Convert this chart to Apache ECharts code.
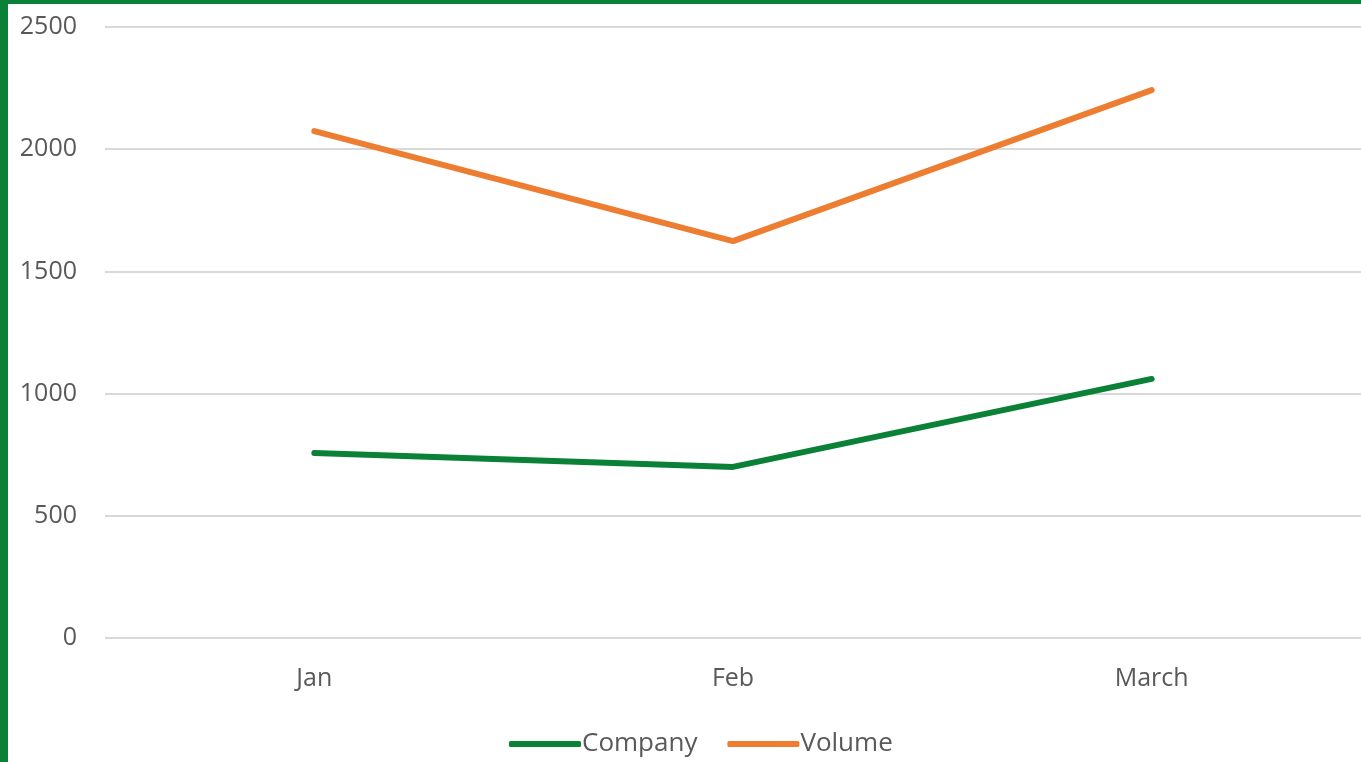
<!DOCTYPE html>
<html>
<head>
<meta charset="utf-8">
<script src="https://cdn.jsdelivr.net/npm/echarts@6/dist/echarts.min.js"></script>
<style>
  html, body { margin: 0; padding: 0; background: #fff; }
  #frame { width: 1353px; height: 758px; border-left: 8px solid #0a8137; border-top: 4px solid #0a8137; }
  #main { width: 1353px; height: 758px; }
</style>
</head>
<body>
<div id="frame"><div id="main"></div></div>
<script>
// data
var months = ['Jan', 'Feb', 'March'];
var company = [757, 700, 1060];
var volume = [2074, 1624, 2242];

var chart = echarts.init(document.getElementById('main'));
var txt = '#595959';

chart.setOption({
  backgroundColor: '#fff',
  animation: false,
  textStyle: { fontFamily: 'Open Sans' },
  grid: { left: 97, top: 23, width: 1260, bottom: 124 },
  legend: {
    bottom: 0,
    left: 496,
    icon: 'roundRect',
    itemWidth: 72,
    itemHeight: 6,
    itemGap: 30,
    textStyle: { color: txt, fontSize: 26, padding: [0, 0, 0, -4] },
    data: ['Company', 'Volume']
  },
  xAxis: {
    type: 'category',
    data: months,
    boundaryGap: true,
    axisLine: { show: false },
    axisTick: { show: false },
    axisLabel: { color: txt, fontSize: 25, margin: 28 }
  },
  yAxis: {
    type: 'value',
    min: 0,
    max: 2500,
    interval: 500,
    axisLine: { show: false },
    axisTick: { show: false },
    axisLabel: { color: txt, fontSize: 25, margin: 28, formatter: function (v) { return String(v); } },
    splitLine: { lineStyle: { color: '#d9d9d9', width: 2 } }
  },
  series: [
    {
      name: 'Company',
      type: 'line',
      data: company,
      symbol: 'none',
      lineStyle: { color: '#0a8137', width: 6, cap: 'round' },
      itemStyle: { color: '#0a8137' }
    },
    {
      name: 'Volume',
      type: 'line',
      data: volume,
      symbol: 'none',
      lineStyle: { color: '#ed7d31', width: 6, cap: 'round' },
      itemStyle: { color: '#ed7d31' }
    }
  ]
});
</script>
</body>
</html>
